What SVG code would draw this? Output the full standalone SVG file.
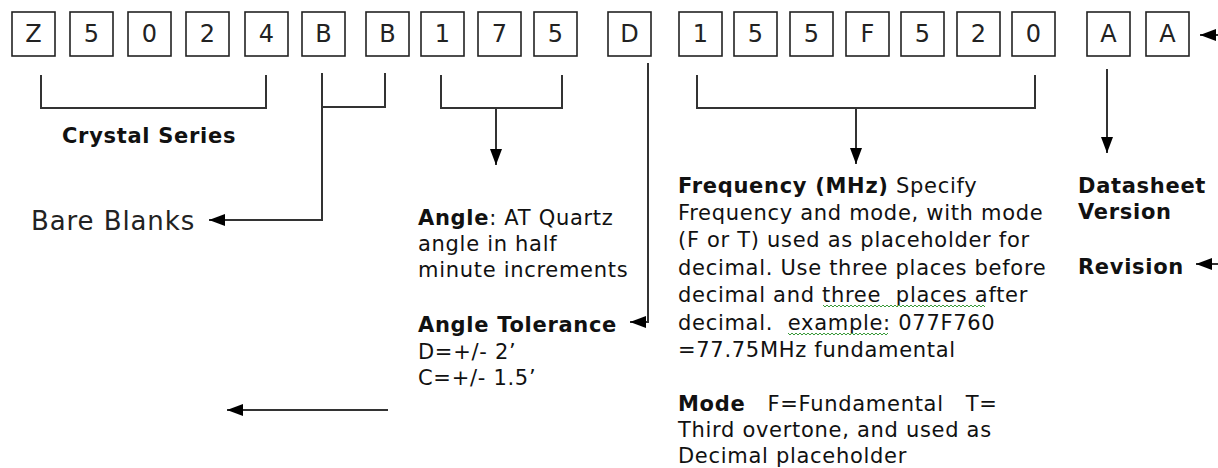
<svg xmlns="http://www.w3.org/2000/svg" width="1218" height="468" viewBox="0 0 1218 468">
<style>
.box rect{fill:#fff;stroke:#222;stroke-width:1.6}
.box text{font-family:"DejaVu Sans",sans-serif;font-size:24px;fill:#222;text-anchor:middle}
.t{font-family:"DejaVu Sans",sans-serif;font-size:21px;fill:#111;letter-spacing:0.7px;white-space:pre}
.b{font-weight:bold}
.big{font-size:26px;letter-spacing:0.9px;fill:#222}
.c path{fill:none;stroke:#333;stroke-width:2}
.sq{fill:none;stroke:#3a9a3a;stroke-width:1}
</style>
<defs>
<marker id="ah" viewBox="0 0 16 12" refX="16" refY="6" markerWidth="16" markerHeight="12" markerUnits="userSpaceOnUse" orient="auto">
<path d="M0,0 L16,6 L0,12 z" fill="#000"/>
</marker>
</defs>
<g id="code" class="box">
<g id="c1"><rect x="12" y="12" width="43" height="44"/><text x="33.5" y="42">Z</text></g>
<g id="c2"><rect x="70" y="12" width="43" height="44"/><text x="91.5" y="42">5</text></g>
<g id="c3"><rect x="128" y="12" width="43" height="44"/><text x="149.5" y="42">0</text></g>
<g id="c4"><rect x="186" y="12" width="43" height="44"/><text x="207.5" y="42">2</text></g>
<g id="c5"><rect x="245" y="12" width="43" height="44"/><text x="266.5" y="42">4</text></g>
<g id="c6"><rect x="302" y="12" width="43" height="44"/><text x="323.5" y="42">B</text></g>
<g id="c7"><rect x="366" y="12" width="43" height="44"/><text x="387.5" y="42">B</text></g>
<g id="c8"><rect x="421" y="12" width="43" height="44"/><text x="442.5" y="42">1</text></g>
<g id="c9"><rect x="478" y="12" width="43" height="44"/><text x="499.5" y="42">7</text></g>
<g id="c10"><rect x="534" y="12" width="43" height="44"/><text x="555.5" y="42">5</text></g>
<g id="c11"><rect x="608" y="12" width="43" height="44"/><text x="629.5" y="42">D</text></g>
<g id="c12"><rect x="679" y="12" width="43" height="44"/><text x="700.5" y="42">1</text></g>
<g id="c13"><rect x="734" y="12" width="43" height="44"/><text x="755.5" y="42">5</text></g>
<g id="c14"><rect x="790" y="12" width="43" height="44"/><text x="811.5" y="42">5</text></g>
<g id="c15"><rect x="846" y="12" width="43" height="44"/><text x="867.5" y="42">F</text></g>
<g id="c16"><rect x="901" y="12" width="43" height="44"/><text x="922.5" y="42">5</text></g>
<g id="c17"><rect x="957" y="12" width="43" height="44"/><text x="978.5" y="42">2</text></g>
<g id="c18"><rect x="1012" y="12" width="43" height="44"/><text x="1033.5" y="42">0</text></g>
<g id="c19"><rect x="1087" y="12" width="43" height="44"/><text x="1108.5" y="42">A</text></g>
<g id="c20"><rect x="1146" y="12" width="43" height="44"/><text x="1167.5" y="42">A</text></g>
</g>
<g id="connectors" class="c">
<path d="M41,75 V108 H266 V75"/>
<path d="M385,73 V107 H322"/>
<path d="M322,73 V220 H209" marker-end="url(#ah)"/>
<path d="M441,75 V108 H562 V75"/>
<path d="M496,108 V165" marker-end="url(#ah)"/>
<path d="M648,63 V322 H630" marker-end="url(#ah)"/>
<path d="M697,75 V108 H1035 V75"/>
<path d="M856,108 V164" marker-end="url(#ah)"/>
<path d="M1107,69 V153" marker-end="url(#ah)"/>
<path d="M1218,35 H1200" marker-end="url(#ah)"/>
<path d="M1218,264 H1196" marker-end="url(#ah)"/>
<path d="M388,410 H227" marker-end="url(#ah)"/>
</g>
<g id="crystal-series"><text class="t b" x="62" y="143">Crystal Series</text></g>
<g id="bare-blanks"><text class="t big" x="31" y="230">Bare Blanks</text></g>
<g id="angle">
<text class="t" x="418" y="225"><tspan class="b">Angle</tspan>: AT Quartz</text>
<text class="t" x="418" y="251">angle in half</text>
<text class="t" x="418" y="277">minute increments</text>
</g>
<g id="angle-tolerance">
<text class="t b" x="418" y="332">Angle Tolerance</text>
<text class="t" x="418" y="359">D=+/- 2’</text>
<text class="t" x="418" y="385">C=+/- 1.5’</text>
</g>
<g id="frequency">
<text class="t" x="678" y="193"><tspan class="b">Frequency (MHz)</tspan> Specify</text>
<text class="t" x="678" y="220">Frequency and mode, with mode</text>
<text class="t" x="678" y="247">(F or T) used as placeholder for</text>
<text class="t" x="678" y="275">decimal. Use three places before</text>
<text class="t" x="678" y="302">decimal and three  places after</text>
<text class="t" x="678" y="330">decimal.  example: 077F760</text>
<text class="t" x="678" y="357">=77.75MHz fundamental</text>
<path class="sq" d="M823,305 l2,2 l2,-2 l2,2 l2,-2 l2,2 l2,-2 l2,2 l2,-2 l2,2 l2,-2 l2,2 l2,-2 l2,2 l2,-2 l2,2 l2,-2 l2,2 l2,-2 l2,2 l2,-2 l2,2 l2,-2 l2,2 l2,-2 l2,2 l2,-2 l2,2 l2,-2 l2,2 l2,-2 l2,2 l2,-2 l2,2 l2,-2 l2,2 l2,-2 l2,2 l2,-2 l2,2 l2,-2 l2,2 l2,-2 l2,2 l2,-2 l2,2 l2,-2 l2,2 l2,-2 l2,2 l2,-2 l2,2 l2,-2 l2,2 l2,-2 l2,2 l2,-2 l2,2 l2,-2 l2,2 l2,-2 l2,2 l2,-2 l2,2 l2,-2 l2,2 l2,-2 l2,2 l2,-2 l2,2 l2,-2 l2,2 l2,-2 l2,2 l2,-2 l2,2 l2,-2 l2,2 l2,-2 l2,2 l2,-2 l2,2"/>
<path class="sq" d="M788,333 l2,2 l2,-2 l2,2 l2,-2 l2,2 l2,-2 l2,2 l2,-2 l2,2 l2,-2 l2,2 l2,-2 l2,2 l2,-2 l2,2 l2,-2 l2,2 l2,-2 l2,2 l2,-2 l2,2 l2,-2 l2,2 l2,-2 l2,2 l2,-2 l2,2 l2,-2 l2,2 l2,-2 l2,2 l2,-2 l2,2 l2,-2 l2,2 l2,-2 l2,2 l2,-2 l2,2 l2,-2 l2,2 l2,-2 l2,2 l2,-2 l2,2 l2,-2 l2,2 l2,-2 l2,2 l2,-2"/>
</g>
<g id="mode">
<text class="t" x="678" y="411"><tspan class="b">Mode</tspan>   F=Fundamental   T=</text>
<text class="t" x="678" y="437">Third overtone, and used as</text>
<text class="t" x="678" y="463">Decimal placeholder</text>
</g>
<g id="datasheet">
<text class="t b" x="1078" y="193">Datasheet</text>
<text class="t b" x="1078" y="219">Version</text>
</g>
<g id="revision"><text class="t b" x="1078" y="274">Revision</text></g>
</svg>
